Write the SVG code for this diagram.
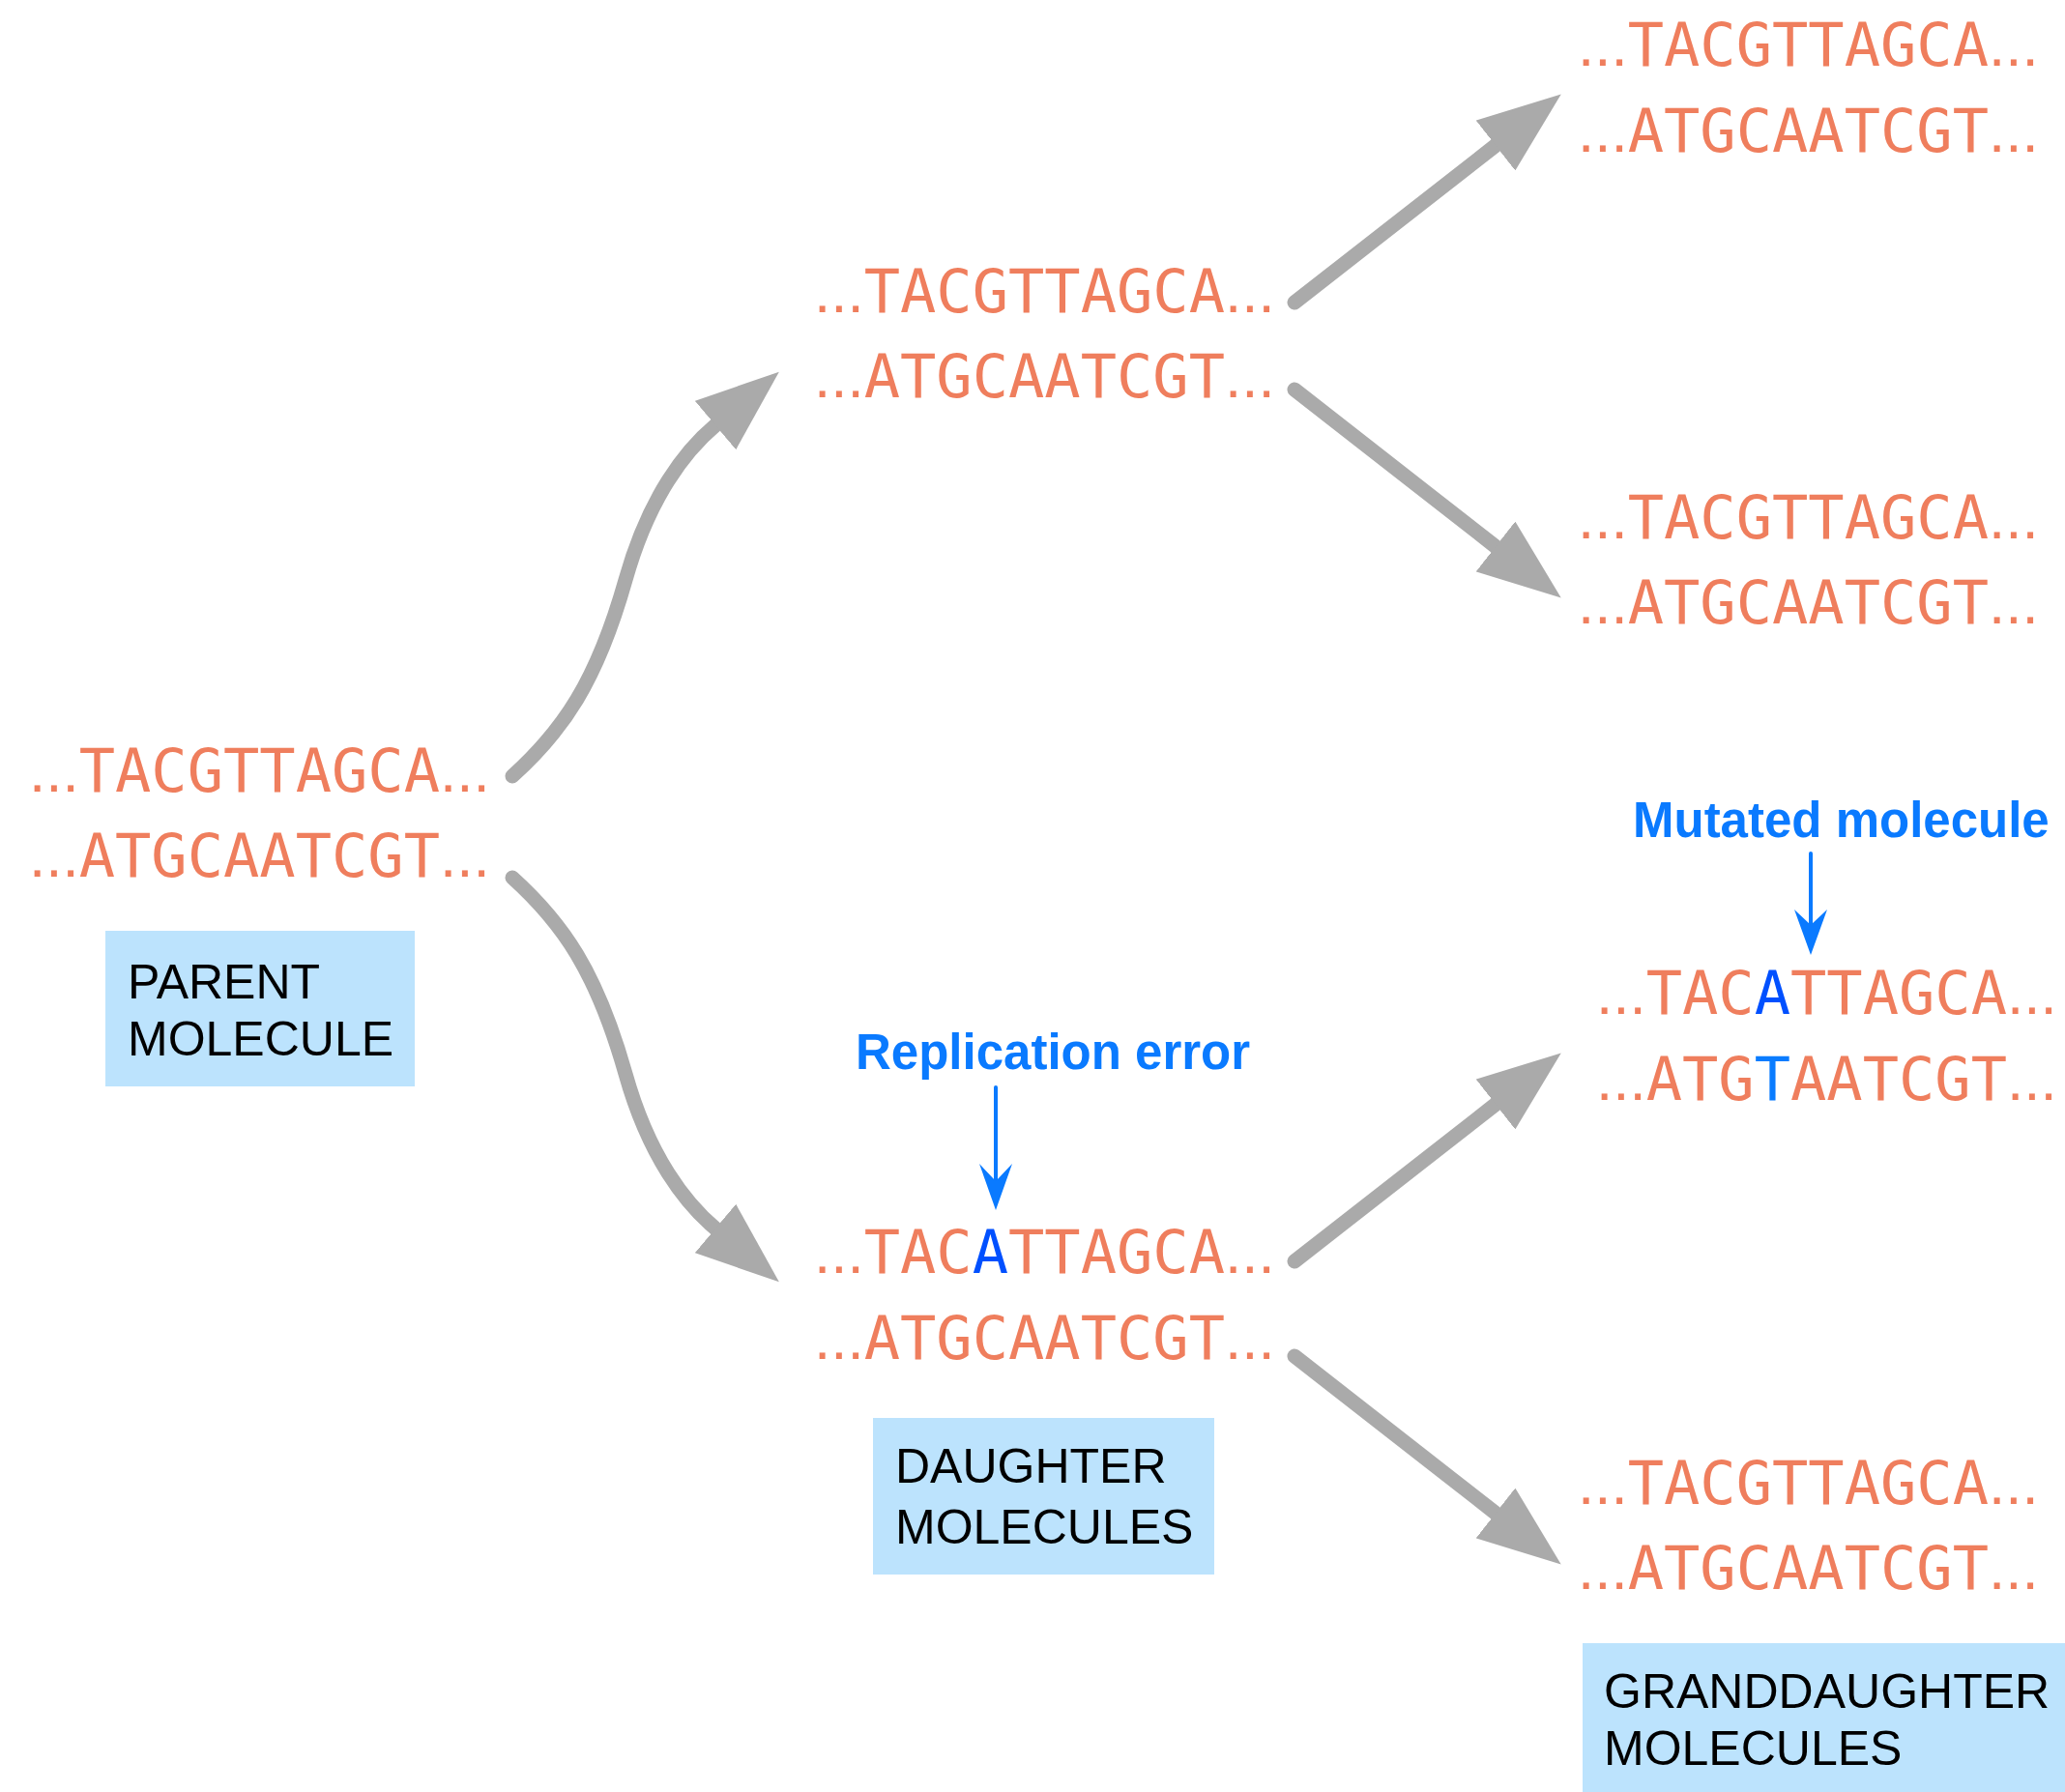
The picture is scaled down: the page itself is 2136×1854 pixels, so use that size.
<svg xmlns="http://www.w3.org/2000/svg" width="2136" height="1854" viewBox="0 0 2136 1854">
  <style>
    .dna { font-family: "DejaVu Sans Mono", "Liberation Mono", monospace; font-size: 62px; fill: #EF7E5D; }
    .dots { font-family: "Liberation Sans", Arial, sans-serif; }
    .mutA { fill: #0050FF; }
    .mutT { fill: #0A7CFF; }
    .tag { fill: #BCE3FD; }
    .tagtxt { font-family: "Liberation Sans", Arial, sans-serif; font-size: 50px; fill: #000; }
    .note { font-family: "Liberation Sans", Arial, sans-serif; font-size: 51px; font-weight: bold; fill: #0A7AFF; }
    .flow { fill: none; stroke: #AAAAAA; stroke-width: 15; stroke-linecap: round; stroke-linejoin: round; marker-end: url(#head); }
    .pointer { fill: none; stroke: #0A7AFF; stroke-width: 4; stroke-linecap: round; }
    .pointerhead { fill: #0A7AFF; }
  </style>
  <defs>
    <marker id="head" markerUnits="userSpaceOnUse" viewBox="0 0 86 66" markerWidth="86" markerHeight="66" refX="0" refY="33" orient="auto">
      <path d="M0,0 L86,33 L0,66 Z" fill="#AAAAAA"/>
    </marker>
  </defs>
  <rect width="2136" height="1854" fill="#FFFFFF"/>

  <!-- replication arrows: S-curves from the parent, straight ones from the daughters -->
  <g id="connectors">
    <path class="flow" d="M530,803 C582,756 617,706 647,600 C671.3,513.6 709.4,465.7 740,440"/>
    <path class="flow" transform="matrix(1 0 0 -1 0 1711)" d="M530,803 C582,756 617,706 647,600 C671.3,513.6 709.4,465.7 740,440"/>
    <path class="flow" d="M1339,313 L1547,150.5"/>
    <path class="flow" d="M1339,403 L1547,565.5"/>
    <path class="flow" d="M1339,1305 L1547,1142.5"/>
    <path class="flow" d="M1339,1403 L1547,1565.5"/>
  </g>

  <!-- parent -->
  <g id="parent">
    <text class="dna" x="30" y="819"><tspan class="dots">...</tspan>TACGTTAGCA<tspan class="dots">...</tspan></text>
    <text class="dna" x="30" y="907"><tspan class="dots">...</tspan>ATGCAATCGT<tspan class="dots">...</tspan></text>
  </g>
  <g id="parent-label">
    <rect class="tag" x="109" y="963" width="320" height="161"/>
    <text class="tagtxt" x="132" y="1033">PARENT</text>
    <text class="tagtxt" x="132" y="1092">MOLECULE</text>
  </g>

  <!-- daughters -->
  <g id="daughter-1">
    <text class="dna" x="842" y="323"><tspan class="dots">...</tspan>TACGTTAGCA<tspan class="dots">...</tspan></text>
    <text class="dna" x="842" y="411"><tspan class="dots">...</tspan>ATGCAATCGT<tspan class="dots">...</tspan></text>
  </g>
  <g id="daughter-2">
    <text class="dna" x="842" y="1317"><tspan class="dots">...</tspan>TAC<tspan class="mutA">A</tspan>TTAGCA<tspan class="dots">...</tspan></text>
    <text class="dna" x="842" y="1406"><tspan class="dots">...</tspan>ATGCAATCGT<tspan class="dots">...</tspan></text>
  </g>
  <g id="daughter-label">
    <rect class="tag" x="903" y="1467" width="353" height="162"/>
    <text class="tagtxt" x="926" y="1534">DAUGHTER</text>
    <text class="tagtxt" x="926" y="1597">MOLECULES</text>
  </g>

  <!-- replication error note -->
  <g id="replication-error">
    <text class="note" x="885" y="1106">Replication error</text>
    <path class="pointer" d="M1030,1125 V1228"/>
    <polygon class="pointerhead" points="1030,1252 1013,1204 1030,1222 1047,1204"/>
  </g>

  <!-- granddaughters -->
  <g id="granddaughter-1">
    <text class="dna" x="1632" y="68"><tspan class="dots">...</tspan>TACGTTAGCA<tspan class="dots">...</tspan></text>
    <text class="dna" x="1632" y="157"><tspan class="dots">...</tspan>ATGCAATCGT<tspan class="dots">...</tspan></text>
  </g>
  <g id="granddaughter-2">
    <text class="dna" x="1632" y="557"><tspan class="dots">...</tspan>TACGTTAGCA<tspan class="dots">...</tspan></text>
    <text class="dna" x="1632" y="645"><tspan class="dots">...</tspan>ATGCAATCGT<tspan class="dots">...</tspan></text>
  </g>
  <g id="granddaughter-3">
    <text class="dna" x="1651" y="1049"><tspan class="dots">...</tspan>TAC<tspan class="mutA">A</tspan>TTAGCA<tspan class="dots">...</tspan></text>
    <text class="dna" x="1651" y="1138"><tspan class="dots">...</tspan>ATG<tspan class="mutT">T</tspan>AATCGT<tspan class="dots">...</tspan></text>
  </g>
  <g id="granddaughter-4">
    <text class="dna" x="1632" y="1556"><tspan class="dots">...</tspan>TACGTTAGCA<tspan class="dots">...</tspan></text>
    <text class="dna" x="1632" y="1644"><tspan class="dots">...</tspan>ATGCAATCGT<tspan class="dots">...</tspan></text>
  </g>

  <!-- mutated molecule note -->
  <g id="mutated-molecule">
    <text class="note" x="1689" y="866">Mutated molecule</text>
    <path class="pointer" d="M1873,883 V964"/>
    <polygon class="pointerhead" points="1873,988 1856,941 1873,957 1890,941"/>
  </g>

  <g id="granddaughter-label">
    <rect class="tag" x="1637" y="1700" width="499" height="154"/>
    <text class="tagtxt" x="1659" y="1767">GRANDDAUGHTER</text>
    <text class="tagtxt" x="1659" y="1826">MOLECULES</text>
  </g>
</svg>
